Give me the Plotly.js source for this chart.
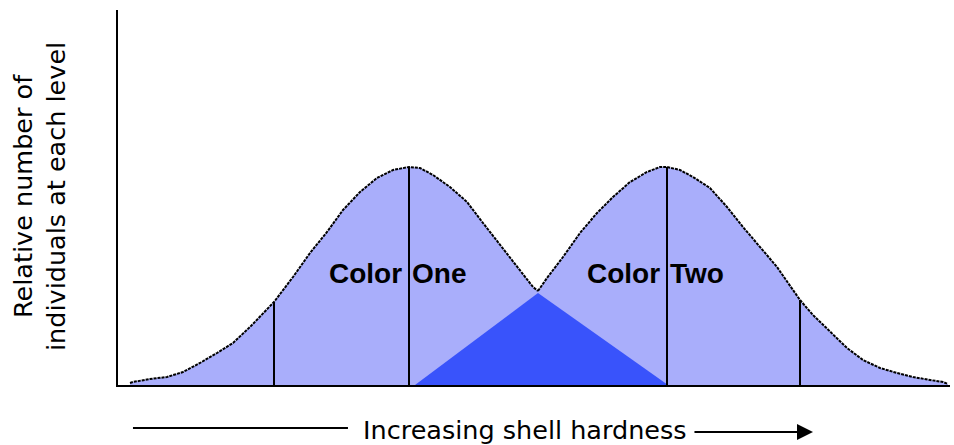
<!DOCTYPE html>
<html>
<head>
<meta charset="utf-8">
<script src="https://cdn.plot.ly/plotly-3.0.1.min.js"></script>
<style>html,body{margin:0;padding:0;background:#fff;}#chart{width:954px;height:445px;}</style>
</head>
<body>
<div id="chart"></div>
<script>
// Hardness (arbitrary units) and relative number of individuals
const colorOneX = [12, 15, 32, 49, 65, 82, 99, 115, 132, 149, 156, 175, 192, 209, 225, 242, 259, 275, 291, 302, 315, 332, 349, 365, 382, 399, 415, 420];
const colorOneY = [2, 3, 6, 8, 13, 22, 32, 42, 58, 75, 83, 108, 132, 153, 175, 193, 207, 215, 218, 217, 210, 198, 183, 162, 140, 118, 98, 94];
const colorTwoX = [420, 422, 429, 445, 462, 479, 495, 512, 529, 542, 549, 562, 575, 592, 609, 625, 642, 659, 675, 682, 695, 712, 729, 745, 762, 779, 795, 812, 825, 830];
const colorTwoY = [94, 97, 107, 128, 152, 172, 188, 203, 213, 218, 218, 215, 208, 197, 178, 158, 138, 118, 95, 85, 70, 53, 37, 25, 17, 12, 8, 5, 3, 1];
// Overlap region (triangle)
const overlapX = [297, 420, 550];
const overlapY = [0, 92, 0];
// Reference lines (mean and spread) for each colour
const markerLineX = [156, 291, 549, 682];
const markerLineH = [83, 218, 218, 85];
// Labels
const groupLabels = ["Color One", "Color Two"];
const labelSplitX = [291, 549];
const labelY = 112;
const yTitle = "Relative number of<br>individuals at each level";
const xTitle = "Increasing shell hardness";

const lightFill = "#a9aefb";
const darkFill = "#3953fb";

const traces = [];
traces.push({x: colorOneX, y: colorOneY, type: "scatter", mode: "lines", fill: "tozeroy",
  fillcolor: lightFill, line: {color: "#000", width: 2, dash: "3px,1px"}, hoverinfo: "skip"});
traces.push({x: colorTwoX, y: colorTwoY, type: "scatter", mode: "lines", fill: "tozeroy",
  fillcolor: lightFill, line: {color: "#000", width: 2, dash: "3px,1px"}, hoverinfo: "skip"});
traces.push({x: overlapX, y: overlapY, type: "scatter", mode: "lines", fill: "toself",
  fillcolor: darkFill, line: {width: 0, color: darkFill}, hoverinfo: "skip"});
markerLineX.forEach((xv, i) => {
  traces.push({x: [xv, xv], y: [0, markerLineH[i]], type: "scatter", mode: "lines",
    line: {color: "#000", width: 2}, hoverinfo: "skip"});
});

const annotations = [];
groupLabels.forEach((lab, i) => {
  const parts = lab.split(" ");
  annotations.push({x: labelSplitX[i] - 5, y: labelY, xref: "x", yref: "y", text: parts[0],
    showarrow: false, xanchor: "right", yanchor: "middle",
    font: {family: "Liberation Sans, Arial, sans-serif", size: 28, color: "#000", weight: "bold"}});
  annotations.push({x: labelSplitX[i] + 1, y: labelY, xref: "x", yref: "y", text: parts[1],
    showarrow: false, xanchor: "left", yanchor: "middle",
    font: {family: "Liberation Sans, Arial, sans-serif", size: 28, color: "#000", weight: "bold"}});
});
annotations.push({x: -0.095, y: 0.504, xref: "paper", yref: "paper", text: yTitle, textangle: -90,
  showarrow: false, xanchor: "center", yanchor: "middle",
  font: {family: "DejaVu Sans, sans-serif", size: 25.5, color: "#000"}});
annotations.push({x: 0.489, y: -0.12, xref: "paper", yref: "paper", text: xTitle,
  showarrow: false, xanchor: "center", yanchor: "middle",
  font: {family: "DejaVu Sans, sans-serif", size: 25.5, color: "#000"}});
annotations.push({x: 0.8353, y: -0.1253, xref: "paper", yref: "paper", text: "",
  showarrow: true, ax: -120, ay: 0, arrowhead: 2, arrowsize: 1.6, arrowwidth: 2, arrowcolor: "#000"});

const layout = {
  width: 954, height: 445,
  margin: {l: 118, r: 4, t: 10, b: 60},
  paper_bgcolor: "#fff", plot_bgcolor: "#fff",
  showlegend: false,
  xaxis: {range: [0, 832], showgrid: false, zeroline: false, showticklabels: false, ticks: "",
    showline: true, linecolor: "#000", linewidth: 2, fixedrange: true},
  yaxis: {range: [0, 375], showgrid: false, zeroline: false, showticklabels: false, ticks: "",
    showline: true, linecolor: "#000", linewidth: 2, fixedrange: true},
  annotations: annotations,
  shapes: [{type: "line", xref: "paper", yref: "paper", x0: 0.018, x1: 0.2764, y0: -0.1147, y1: -0.1147,
    line: {color: "#000", width: 2}}]
};

Plotly.newPlot("chart", traces, layout, {displayModeBar: false, staticPlot: true});
</script>
</body>
</html>
